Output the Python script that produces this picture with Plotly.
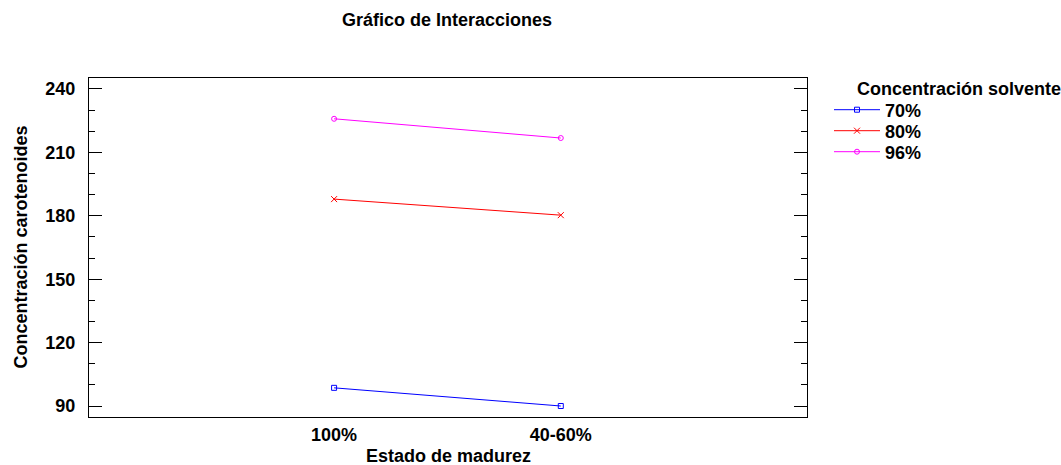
import plotly.graph_objects as go

categories = ["100%", "40-60%"]
series_names = ["70%", "80%", "96%"]
values_70 = [98.6, 90.0]
values_80 = [187.9, 180.3]
values_96 = [225.9, 216.8]
y_ticks = [90, 120, 150, 180, 210, 240]

FONT = "Liberation Sans, Arial, sans-serif"
FS = 18

L, R, T, B = 89, 807, 78, 417
W, H = 1061, 465

def px_x(p):
    return (p - L) / (R - L)

def px_y(p):
    return (B - p) / (B - T)

series = [
    ("70%", values_70, "#0000FF", "square-open", 5, "legend"),
    ("80%", values_80, "#FF0000", "x-thin-open", 6, "legend2"),
    ("96%", values_96, "#FF00FF", "circle-open", 5, "legend3"),
]
legend_rows = [110, 131, 152]

fig = go.Figure()
for name, vals, col, sym, sz, lg in series:
    fig.add_trace(go.Scatter(
        x=categories, y=vals, name=name, mode="lines+markers",
        line=dict(color=col, width=1),
        marker=dict(symbol=sym, size=sz, color=col, line=dict(color=col, width=1)),
        legend=lg,
    ))

legend_common = dict(
    xanchor="left", yanchor="middle",
    font=dict(family=FONT, size=FS, color="black", weight="bold"),
    bgcolor="rgba(0,0,0,0)", borderwidth=0, itemwidth=46,
)
legends = {}
for key, row in zip(["legend", "legend2", "legend3"], legend_rows):
    legends[key] = dict(x=px_x(829), y=px_y(row), **legend_common)

fig.update_layout(
    width=W, height=H,
    margin=dict(l=L, r=W - R, t=T, b=H - B),
    paper_bgcolor="white", plot_bgcolor="white",
    font=dict(family=FONT, size=FS, color="black"),
    showlegend=True,
    **legends,
    xaxis=dict(
        type="category", range=[-1.081, 2.086],
        showline=True, linecolor="black", linewidth=1, mirror=True,
        ticks="", showgrid=False, zeroline=False,
        tickfont=dict(family=FONT, size=FS, weight="bold"),
        ticklabelstandoff=1,
    ),
    yaxis=dict(
        range=[84.8, 245.2],
        showline=True, linecolor="black", linewidth=1, mirror="ticks",
        tickmode="array", tickvals=y_ticks, ticktext=[str(v) for v in y_ticks],
        ticks="inside", ticklen=13, tickwidth=1, tickcolor="black",
        minor=dict(ticks="inside", ticklen=6, dtick=10, tick0=0, tickcolor="black", tickwidth=1, showgrid=False),
        showgrid=False, zeroline=False,
        tickfont=dict(family=FONT, size=FS, weight="bold"),
        ticklabelstandoff=9,
    ),
    annotations=[
        dict(text="<b>Gráfico de Interacciones</b>", x=px_x(447), y=px_y(20),
             xref="paper", yref="paper", showarrow=False, xanchor="center", yanchor="middle",
             font=dict(family=FONT, size=FS)),
        dict(text="<b>Estado de madurez</b>", x=0.5, y=px_y(456),
             xref="paper", yref="paper", showarrow=False, xanchor="center", yanchor="middle",
             font=dict(family=FONT, size=FS)),
        dict(text="<b>Concentración carotenoides</b>", x=px_x(20), y=0.5,
             xref="paper", yref="paper", showarrow=False, xanchor="center", yanchor="middle",
             textangle=-90, font=dict(family=FONT, size=FS)),
        dict(text="<b>Concentración solvente</b>", x=px_x(855), y=px_y(89),
             xref="paper", yref="paper", showarrow=False, xanchor="left", yanchor="middle",
             font=dict(family=FONT, size=FS)),
    ],
)

fig.write_html("out.html")
